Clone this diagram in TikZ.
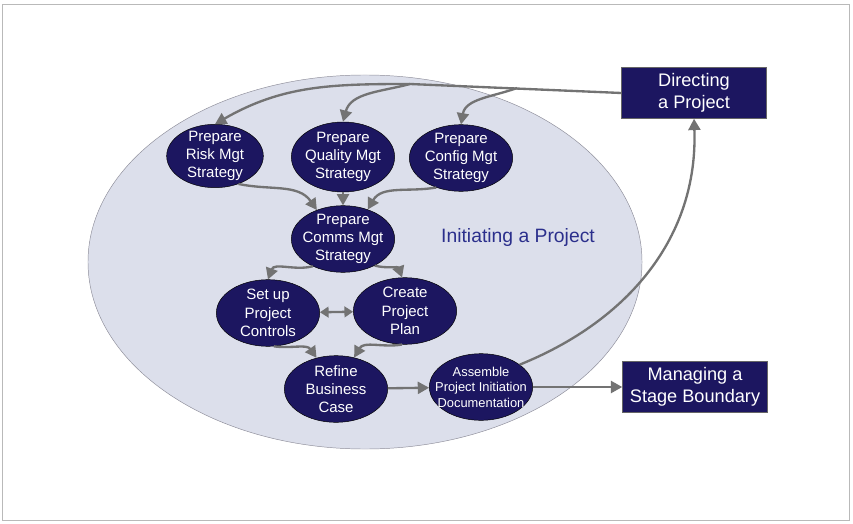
\documentclass[tikz,border=0pt]{standalone}
\usepackage{fontspec}
\setmainfont{Liberation Sans}
\usetikzlibrary{arrows.meta,shapes.geometric}
\definecolor{navy}{HTML}{1C1660}
\definecolor{haze}{HTML}{DCDFEB}
\definecolor{rim}{HTML}{8E8E9A}
\definecolor{arrgray}{HTML}{737373}
\definecolor{titleblue}{HTML}{2B2F8C}

\begin{document}
\begin{tikzpicture}[
  x=0.03cm,y=0.03cm,
  bgell/.style={ellipse,draw=rim,fill=haze,minimum width=16.62cm,minimum height=11.22cm},
  stage/.style={ellipse,draw=black,thin,fill=navy,text=white,align=center,inner xsep=-10pt,inner ysep=-6pt,minimum width=3.1cm,minimum height=2.0cm,font=\fontsize{12.8}{15.6}\selectfont},
  proc/.style={draw=gray!80!black,fill=navy,text=white,align=center,minimum width=4.35cm,minimum height=1.53cm,font=\fontsize{15.5}{18.5}\selectfont},
  arr/.style={-{Triangle[length=3.4mm,width=3.6mm]},line width=2pt,draw=arrgray}
]
  \useasboundingbox (0,0) rectangle (853,523);
  \draw[gray!55,line width=0.8pt] (2,3) rectangle (849,519);

  \node[bgell] (ini) at (365,261) {};
  \node[text=titleblue,font=\fontsize{16.5}{20}\selectfont] (title) at (518,285) {Initiating a Project};

  \node[stage,minimum width=2.9cm,minimum height=1.9cm] (risk) at (215,367) {Prepare\\Risk Mgt\\Strategy};
  \node[stage,minimum height=2.1cm] (qual) at (343,366) {Prepare\\Quality Mgt\\Strategy};
  \node[stage] (conf) at (461,365) {Prepare\\Config Mgt\\Strategy};
  \node[stage] (comms) at (343,284) {Prepare\\Comms Mgt\\Strategy};
  \node[stage] (setup) at (268,210) {Set up\\Project\\Controls};
  \node[stage] (create) at (405,212) {Create\\Project\\Plan};
  \node[stage] (refine) at (336,134) {Refine\\Business\\Case};
  \node[stage,font=\fontsize{11}{13.2}\selectfont] (asm) at (481,136) {Assemble\\Project Initiation\\Documentation};

  \node[proc] (dir) at (694,430) {Directing\\a Project};
  \node[proc] (msb) at (695,136) {Managing a\\Stage Boundary};

  \coordinate (j1) at (410,439);
  \coordinate (j2) at (517,435);

  % from Directing a Project
  \draw[arr] (dir.west) -- (j1) to[out=180,in=30] (risk.north);
  \draw[arr] (j1) to[out=195,in=75] (qual.north);
  \draw[arr] (j2) to[out=200,in=80] (conf.north);

  % into the comms strategy
  \draw[arr] (risk.-50) to[out=-12,in=125] (comms.132);
  \draw[arr] (qual) -- (comms);
  \draw[arr] (conf.-130) to[out=190,in=60] (comms.50);

  \draw[arr] (comms.-138) to[out=195,in=70] (setup.north);
  \draw[arr] (comms.-40) to[out=-15,in=110] (create.95);
  \draw[arr,{Triangle[length=2.6mm,width=3.2mm]}-{Triangle[length=2.6mm,width=3.2mm]}] (setup) -- (create);

  \draw[arr] (setup.-80) to[out=-8,in=125] (refine.122);
  \draw[arr] (create.-95) to[out=190,in=60] (refine.60);
  \draw[arr] (refine) -- (asm);
  \draw[arr] (asm) -- (msb);
  \draw[arr] (asm.30) to[out=22,in=-88] (dir.south);
\end{tikzpicture}
\end{document}
